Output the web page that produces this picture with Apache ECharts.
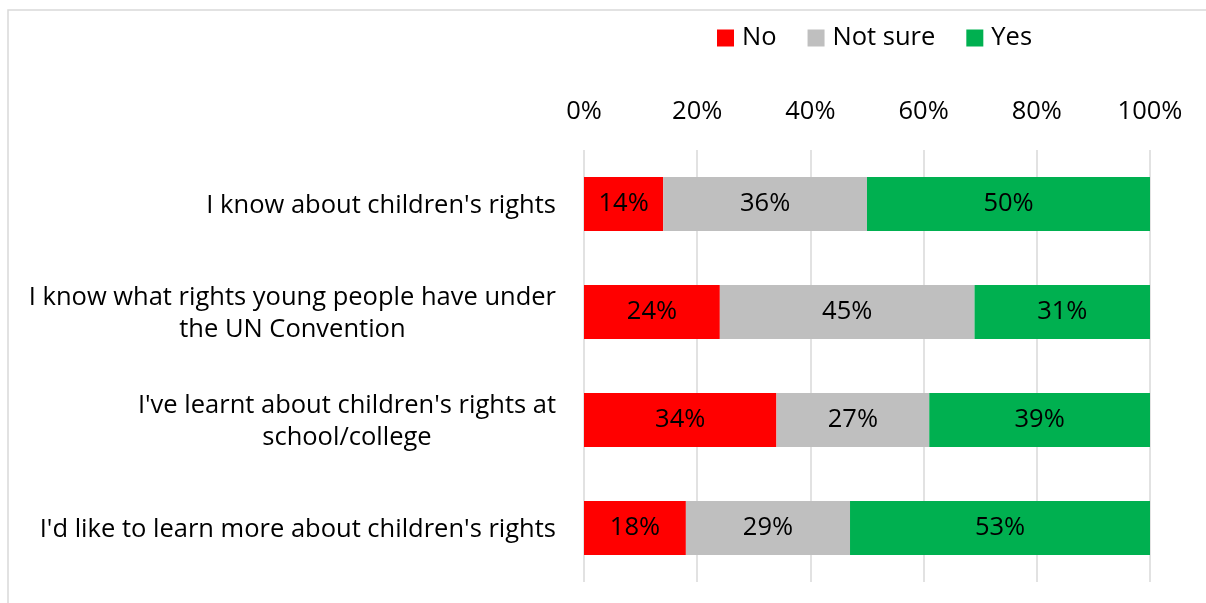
<!DOCTYPE html>
<html>
<head>
<meta charset="utf-8">
<script src="https://cdn.jsdelivr.net/npm/echarts@6/dist/echarts.min.js"></script>
<style>
  html, body { margin: 0; padding: 0; background: #fff; }
  #chart { width: 1206px; height: 603px; }
</style>
</head>
<body>
<div id="chart"></div>
<script>
// Survey statements (top to bottom)
const categories = [
  "I know about children's rights",
  "I know what rights young people have under\nthe UN Convention",
  "I've learnt about children's rights at\nschool/college",
  "I'd like to learn more about children's rights"
];
// Share of responses, percent
const noValues      = [14, 24, 34, 18];
const notSureValues = [36, 45, 27, 29];
const yesValues     = [50, 31, 39, 53];
const seriesNames = ['No', 'Not sure', 'Yes'];
const seriesColors = ['#FF0000', '#BFBFBF', '#00B050'];
const tickValues = [0, 20, 40, 60, 80, 100];

const FONT = '"Open Sans"';
const FS = 25.5;
const chart = echarts.init(document.getElementById('chart'), null, { renderer: 'canvas' });

const valueSets = [noValues, notSureValues, yesValues];
const series = seriesNames.map((name, i) => ({
  name: name,
  type: 'bar',
  stack: 'total',
  barWidth: '50%',
  data: valueSets[i],
  itemStyle: { color: seriesColors[i] },
  label: {
    show: true,
    position: 'inside',
    formatter: p => p.value + '%',
    color: '#000',
    fontFamily: FONT,
    fontSize: FS
  },
  emphasis: { disabled: true }
}));

chart.setOption({
  animation: false,
  textStyle: { fontFamily: FONT },
  graphic: [{
    type: 'rect',
    shape: { x: 8, y: 10, width: 1400, height: 800 },
    style: { fill: 'none', stroke: '#D9D9D9', lineWidth: 1.5 },
    silent: true
  }],
  legend: {
    data: seriesNames,
    left: 712,
    top: 20,
    itemWidth: 17,
    itemHeight: 17,
    itemGap: 31,
    icon: 'rect',
    textStyle: { fontFamily: FONT, fontSize: FS, color: '#000', padding: [0, 0, 0, 3] }
  },
  grid: { left: 584, right: 56, top: 150, bottom: 21, containLabel: false },
  xAxis: {
    type: 'value',
    position: 'top',
    min: 0,
    max: 100,
    interval: 20,
    axisLine: { show: false },
    axisTick: { show: false },
    splitLine: { show: true, lineStyle: { color: '#D9D9D9', width: 1.5 } },
    axisLabel: {
      margin: 25,
      color: '#000',
      fontFamily: FONT,
      fontSize: FS,
      formatter: v => tickValues.includes(v) ? v + '%' : ''
    }
  },
  yAxis: {
    type: 'category',
    inverse: true,
    data: categories,
    axisLine: { show: false },
    axisTick: { show: false },
    axisLabel: {
      margin: 28,
      color: '#000',
      fontFamily: FONT,
      fontSize: FS,
      formatter: v => v.split('\n').map(s => '{c|' + s + '}').join('\n'),
      rich: {
        c: { align: 'center', fontFamily: FONT, fontSize: FS, color: '#000', lineHeight: 32, padding: [3, 0, 0, 0] }
      }
    }
  },
  series: series
});
</script>
</body>
</html>
